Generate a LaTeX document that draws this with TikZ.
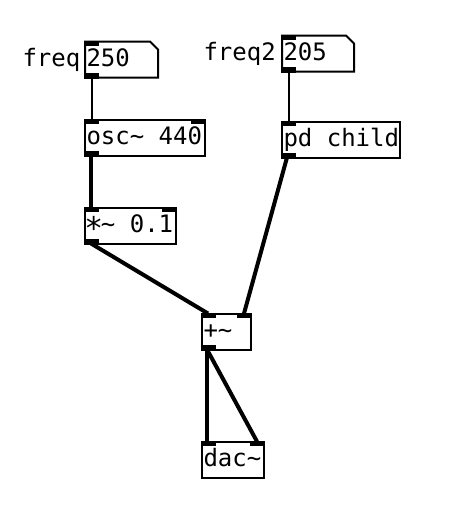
\documentclass[tikz,border=0pt]{standalone}
\usepackage{fontspec}
\newfontfamily\pdfont{DejaVu Sans Mono}
\usetikzlibrary{calc}
\newcommand\pdinL[1]{\fill ($(#1.north west)+(-1,-1)$) rectangle ++(15,5.5);}
\newcommand\pdinR[1]{\fill ($(#1.north east)+(-14,-1)$) rectangle ++(15,5.5);}
\newcommand\pdoutL[1]{\fill ($(#1.south west)+(-1,1)$) rectangle ++(15,-5.5);}
\newcommand\pdw[2]{\makebox[#1][l]{#2}}
\begin{document}
\begin{tikzpicture}[x=1pt,y=-1pt,
  pdtext/.style={font=\pdfont\fontsize{24}{24}\selectfont, inner sep=0pt, outer sep=0pt},
  obj/.style={pdtext, draw, line width=2pt, anchor=north west, inner xsep=1.5pt, inner ysep=0pt, text height=25pt, text depth=11pt},
  numbox/.style={obj, draw=none},
  ctl/.style={line width=2pt},
  sig/.style={line width=4pt},
  boxline/.style={line width=2pt, line join=miter},
  lab/.style={pdtext, anchor=base west}]
\useasboundingbox (0,0) rectangle (450,514);
% boxes
\node[numbox] (num1) at (85,41.5) {\pdw{70pt}{250}};
\node[numbox] (num2) at (282,35.5) {\pdw{69pt}{205}};
\node[obj] (osc) at (85,119.5) {\pdw{117pt}{osc\textasciitilde{} 440}};
\node[obj] (pd) at (282,121.5) {\pdw{115pt}{pd child}};
\node[obj] (mul) at (85,207.5) {\pdw{88pt}{\makebox[0.602em]{\raisebox{-0.3em}{\scalebox{1.3}{*}}}\textasciitilde{} 0.1}};
\node[obj] (plus) at (202,313.5) {\pdw{46pt}{+\textasciitilde}};
\node[obj] (dac) at (202,441.5) {\pdw{59pt}{dac\textasciitilde}};
% labels
\node[lab] (lab1) at (22.5,66.5) {freq};
\node[lab] (lab2) at (203.5,60.5) {freq2};
% number box outlines
\draw[boxline] (num1.north west) -- ($(num1.north east)+(-8,0)$) -- ($(num1.north east)+(0,8)$) -- (num1.south east) -- (num1.south west) -- cycle;
\draw[boxline] (num2.north west) -- ($(num2.north east)+(-8,0)$) -- ($(num2.north east)+(0,8)$) -- (num2.south east) -- (num2.south west) -- cycle;
% inlets and outlets
\pdinL{num1} \pdoutL{num1}
\pdinL{num2} \pdoutL{num2}
\pdinL{osc} \pdinR{osc} \pdoutL{osc}
\pdinL{pd} \pdoutL{pd}
\pdinL{mul} \pdinR{mul} \pdoutL{mul}
\pdinL{plus} \pdinR{plus} \pdoutL{plus}
\pdinL{dac} \pdinR{dac}
% connections
\draw[ctl] ($(num1.south west)+(6.5,0)$) -- ($(osc.north west)+(6.5,0)$);
\draw[ctl] ($(num2.south west)+(6.5,0)$) -- ($(pd.north west)+(6.5,0)$);
\draw[sig] ($(osc.south west)+(6,0)$) -- ($(mul.north west)+(6,0)$);
\draw[sig] ($(mul.south west)+(6,0)$) -- ($(plus.north west)+(6,0)$);
\draw[sig] ($(pd.south west)+(5,0)$) -- ($(plus.north east)+(-7,0)$);
\draw[sig] ($(plus.south west)+(5,0)$) -- ($(dac.north west)+(5,0)$);
\draw[sig] ($(plus.south west)+(5,0)$) -- ($(dac.north east)+(-7,0)$);
\end{tikzpicture}
\end{document}
